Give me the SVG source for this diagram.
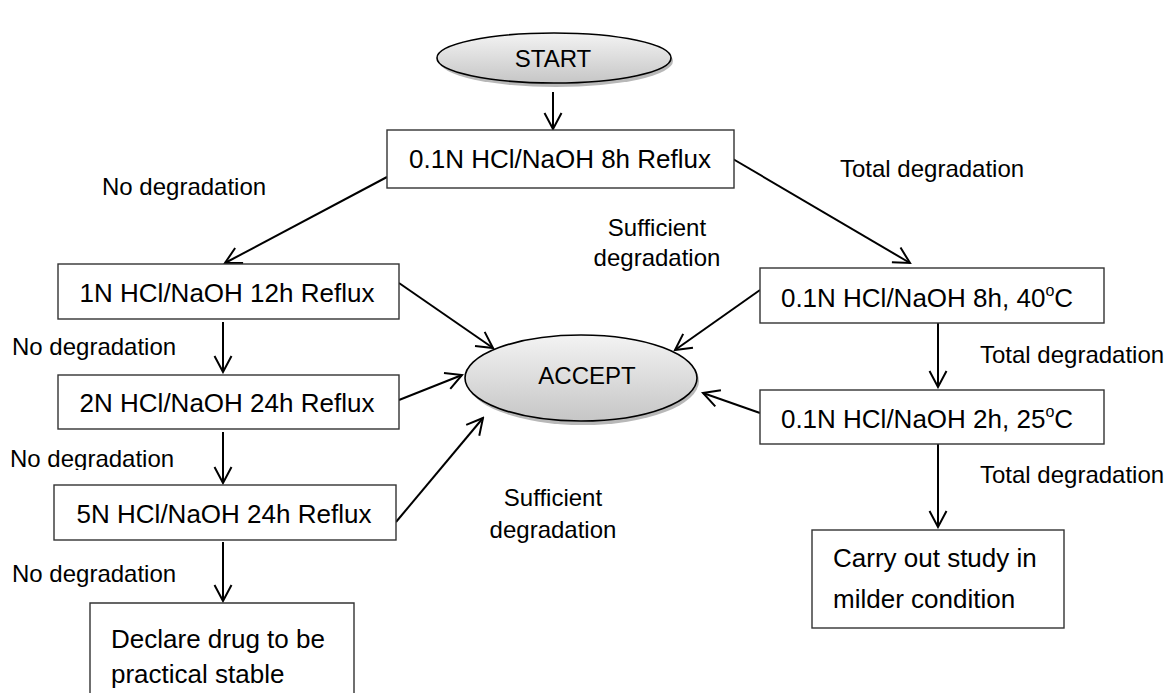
<svg xmlns="http://www.w3.org/2000/svg" width="1171" height="693" viewBox="0 0 1171 693">
<style>
.box{fill:#fff;stroke:#333;stroke-width:1.4}
.term{fill:url(#g);stroke:#000;stroke-width:1.6}
.sh{fill:#9a9a9a;opacity:0.7}
.bt{font-family:"Liberation Sans",Arial,sans-serif;font-size:26px;fill:#000}
.tt{font-family:"Liberation Sans",Arial,sans-serif;font-size:24px;fill:#000;text-anchor:middle}
.lb{font-family:"Liberation Sans",Arial,sans-serif;font-size:24px;fill:#000}
.c{text-anchor:middle}
.cn line{stroke:#000;stroke-width:2;marker-end:url(#ah)}
</style>
<defs>
<linearGradient id="g" x1="0" y1="0" x2="0" y2="1">
<stop offset="0" stop-color="#f3f3f3"/>
<stop offset="1" stop-color="#c6c6c6"/>
</linearGradient>
<marker id="ah" viewBox="0 0 20 20" markerWidth="20" markerHeight="20" refX="18" refY="10" orient="auto" markerUnits="userSpaceOnUse">
<path d="M2,1.5 L18,10 L2,18.5" fill="none" stroke="#000" stroke-width="2"/>
</marker>
<clipPath id="clipnd"><rect x="0" y="430" width="300" height="40"/></clipPath>
</defs>
<rect width="1171" height="693" fill="#fff"/>
<g id="connectors" class="cn">
<line x1="553" y1="92" x2="553" y2="129"/>
<line x1="387" y1="177" x2="225" y2="263"/>
<line x1="733" y1="159" x2="910" y2="263"/>
<line x1="399" y1="283" x2="493" y2="348"/>
<line x1="399" y1="400" x2="462" y2="375"/>
<line x1="396" y1="522" x2="483" y2="418"/>
<line x1="760" y1="290" x2="675" y2="350"/>
<line x1="760" y1="413" x2="703" y2="393"/>
<line x1="223" y1="322" x2="223" y2="372"/>
<line x1="223" y1="432" x2="223" y2="483"/>
<line x1="223" y1="542" x2="223" y2="601"/>
<line x1="938" y1="323" x2="938" y2="387"/>
<line x1="938" y1="444" x2="938" y2="527"/>
</g>
<g id="start">
<ellipse class="sh" cx="556" cy="61" rx="117" ry="26"/>
<ellipse class="term" cx="554" cy="58" rx="117" ry="25"/>
<text class="tt" x="553" y="67">START</text>
</g>
<g id="n01reflux">
<rect class="box" x="387" y="130" width="347" height="58"/>
<text class="bt c" x="560" y="168">0.1N HCl/NaOH 8h Reflux</text>
</g>
<g id="n1">
<rect class="box" x="58" y="264" width="341" height="55"/>
<text class="bt c" x="227" y="302">1N HCl/NaOH 12h Reflux</text>
</g>
<g id="n2">
<rect class="box" x="58" y="375" width="341" height="54"/>
<text class="bt c" x="227" y="412">2N HCl/NaOH 24h Reflux</text>
</g>
<g id="n5">
<rect class="box" x="54" y="485" width="342" height="55"/>
<text class="bt c" x="224" y="523">5N HCl/NaOH 24h Reflux</text>
</g>
<g id="declare">
<path class="box" d="M90,700 V603 H354 V700"/>
<text class="bt" x="111" y="648">Declare drug to be</text>
<text class="bt" x="111" y="683">practical stable</text>
</g>
<g id="accept">
<ellipse class="sh" cx="583" cy="381" rx="116" ry="44"/>
<ellipse class="term" cx="581" cy="378" rx="116" ry="43"/>
<text class="tt" x="587" y="384">ACCEPT</text>
</g>
<g id="n40">
<rect class="box" x="760" y="268" width="344" height="55"/>
<text class="bt c" x="927" y="307">0.1N HCl/NaOH 8h, 40<tspan font-size="16" dy="-11">o</tspan><tspan dy="11">C</tspan></text>
</g>
<g id="n25">
<rect class="box" x="760" y="390" width="344" height="54"/>
<text class="bt c" x="927" y="428">0.1N HCl/NaOH 2h, 25<tspan font-size="16" dy="-11">o</tspan><tspan dy="11">C</tspan></text>
</g>
<g id="carry">
<rect class="box" x="812" y="530" width="252" height="98"/>
<text class="bt" x="833" y="567">Carry out study in</text>
<text class="bt" x="833" y="608">milder condition</text>
</g>
<g id="labels">
<text class="lb" x="102" y="195">No degradation</text>
<text class="lb" x="840" y="177">Total degradation</text>
<text class="lb c" x="657" y="236">Sufficient</text>
<text class="lb c" x="657" y="266">degradation</text>
<text class="lb" x="12" y="355">No degradation</text>
<text class="lb" x="10" y="467" clip-path="url(#clipnd)">No degradation</text>
<text class="lb" x="12" y="582">No degradation</text>
<text class="lb" x="980" y="363">Total degradation</text>
<text class="lb" x="980" y="483">Total degradation</text>
<text class="lb c" x="553" y="506">Sufficient</text>
<text class="lb c" x="553" y="538">degradation</text>
</g>
</svg>
